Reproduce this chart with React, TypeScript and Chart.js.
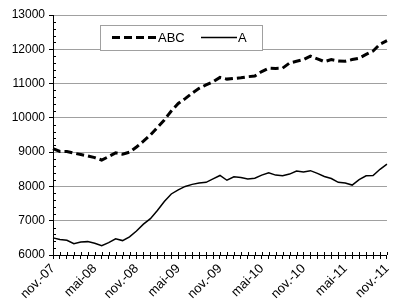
import { useEffect, useRef } from "react";
import { Chart, registerables } from "chart.js";

Chart.register(...registerables);

const categories = [
  "nov.-07", "déc.-07", "janv.-08", "févr.-08", "mars-08", "avr.-08", "mai-08", "juin-08", "juil.-08", "août-08", "sept.-08", "oct.-08",
  "nov.-08", "déc.-08", "janv.-09", "févr.-09", "mars-09", "avr.-09", "mai-09", "juin-09", "juil.-09", "août-09", "sept.-09", "oct.-09",
  "nov.-09", "déc.-09", "janv.-10", "févr.-10", "mars-10", "avr.-10", "mai-10", "juin-10", "juil.-10", "août-10", "sept.-10", "oct.-10",
  "nov.-10", "déc.-10", "janv.-11", "févr.-11", "mars-11", "avr.-11", "mai-11", "juin-11", "juil.-11", "août-11", "sept.-11", "oct.-11",
  "nov.-11",
];

const abcValues = [
  9100, 9020, 9020, 8970, 8930, 8890, 8840, 8770, 8870, 8980, 8940, 9000,
  9150, 9320, 9500, 9720, 9940, 10200, 10420, 10560, 10720, 10860, 10960, 11050,
  11180, 11130, 11150, 11170, 11200, 11220, 11350, 11450, 11440, 11450, 11600, 11650,
  11700, 11800, 11720, 11640, 11700, 11660, 11650, 11700, 11740, 11850, 11950, 12150,
  12250,
];

const aValues = [
  6500, 6450, 6430, 6330, 6380, 6390, 6340, 6270, 6360, 6470, 6420, 6530,
  6700, 6900, 7060, 7300, 7560, 7780, 7900, 8000, 8060, 8100, 8120, 8220,
  8320, 8180, 8280, 8260, 8220, 8240, 8330, 8400, 8330, 8310, 8360, 8450,
  8420, 8460, 8380, 8290, 8230, 8120, 8100, 8040, 8200, 8310, 8320, 8500,
  8650,
];

const seriesNames = ["ABC", "A"];
const yMin = 6000;
const yMax = 13000;
const yStep = 1000;
const yMinorStep = 200;
const labelEvery = 6;

const FONT = "'Liberation Sans', Arial, sans-serif";

const boxLegend = {
  id: "boxLegend",
  afterDatasetsDraw(chart: any) {
    const ctx = chart.ctx as CanvasRenderingContext2D;
    ctx.save();
    ctx.fillStyle = "#ffffff";
    ctx.strokeStyle = "#a0a0a0";
    ctx.lineWidth = 1;
    ctx.fillRect(100.5, 25.5, 162, 25);
    ctx.strokeRect(100.5, 25.5, 162, 25);
    const ly = 37.5;
    const ds = chart.data.datasets;
    ctx.strokeStyle = "#000";
    ctx.lineWidth = ds[0].borderWidth;
    ctx.setLineDash(ds[0].borderDash);
    ctx.beginPath();
    ctx.moveTo(112, ly);
    ctx.lineTo(157, ly);
    ctx.stroke();
    ctx.setLineDash([]);
    ctx.lineWidth = ds[1].borderWidth;
    ctx.beginPath();
    ctx.moveTo(201, ly);
    ctx.lineTo(237, ly);
    ctx.stroke();
    ctx.fillStyle = "#000";
    ctx.font = `13px ${FONT}`;
    ctx.textBaseline = "middle";
    ctx.textAlign = "left";
    ctx.fillText(ds[0].label, 158, ly + 0.5);
    ctx.fillText(ds[1].label, 238, ly + 0.5);
    ctx.restore();
  },
};

const tickMarks = {
  id: "tickMarks",
  afterDraw(chart: any) {
    const ctx = chart.ctx as CanvasRenderingContext2D;
    const x = chart.scales.x;
    const y = chart.scales.y;
    const area = chart.chartArea;
    ctx.save();
    ctx.strokeStyle = "#000";
    ctx.lineWidth = 1;
    ctx.beginPath();
    for (let i = 0; i < categories.length; i++) {
      const px = Math.round(x.getPixelForValue(i)) + 0.5;
      ctx.moveTo(px, area.bottom);
      ctx.lineTo(px, area.bottom - 3);
    }
    for (let v = yMin; v <= yMax; v += yMinorStep) {
      if (v % yStep === 0) continue;
      const py = Math.round(y.getPixelForValue(v)) + 0.5;
      ctx.moveTo(area.left, py);
      ctx.lineTo(area.left + 3, py);
    }
    ctx.stroke();
    ctx.restore();
  },
};

export default function App() {
  const ref = useRef<HTMLCanvasElement | null>(null);

  useEffect(() => {
    document.body.style.margin = "0";
    const canvas = ref.current;
    if (!canvas) return;
    const chart = new Chart(canvas, {
      type: "line",
      data: {
        labels: categories,
        datasets: [
          {
            label: seriesNames[0],
            data: abcValues,
            borderColor: "#000",
            borderWidth: 3,
            borderDash: [8, 4],
            pointRadius: 0,
            tension: 0,
            fill: false,
          },
          {
            label: seriesNames[1],
            data: aValues,
            borderColor: "#000",
            borderWidth: 1.5,
            pointRadius: 0,
            tension: 0,
            fill: false,
          },
        ],
      },
      options: {
        animation: false,
        responsive: false,
        maintainAspectRatio: false,
        devicePixelRatio: 1,
        layout: { padding: { left: 0, right: 2, top: 15, bottom: 0 } },
        plugins: {
          legend: { display: false },
          tooltip: { enabled: false },
        },
        scales: {
          x: {
            offset: false,
            grid: {
              display: true,
              drawOnChartArea: false,
              drawTicks: true,
              tickLength: 4,
              tickColor: "#000",
            },
            border: { display: true, color: "#000", width: 1 },
            ticks: {
              autoSkip: false,
              maxRotation: 45,
              minRotation: 45,
              color: "#000",
              padding: 2,
              font: { family: FONT, size: 13 },
              callback: (_v: any, i: number) => (i % labelEvery === 0 ? categories[i] : ""),
            },
            afterFit: (s: any) => {
              s.height = 51;
            },
          },
          y: {
            min: yMin,
            max: yMax,
            grid: {
              color: "#a0a0a0",
              tickColor: "#000",
              tickLength: 4,
              lineWidth: 1,
            },
            border: { display: true, color: "#000", width: 1 },
            ticks: {
              stepSize: yStep,
              color: "#000",
              padding: 4,
              font: { family: FONT, size: 12 },
              callback: (v: any) => String(v),
            },
            afterFit: (s: any) => {
              s.width = 53;
            },
          },
        },
      },
      plugins: [boxLegend, tickMarks],
    });
    return () => chart.destroy();
  }, []);

  return <canvas ref={ref} width={400} height={306} style={{ display: "block" }} />;
}
